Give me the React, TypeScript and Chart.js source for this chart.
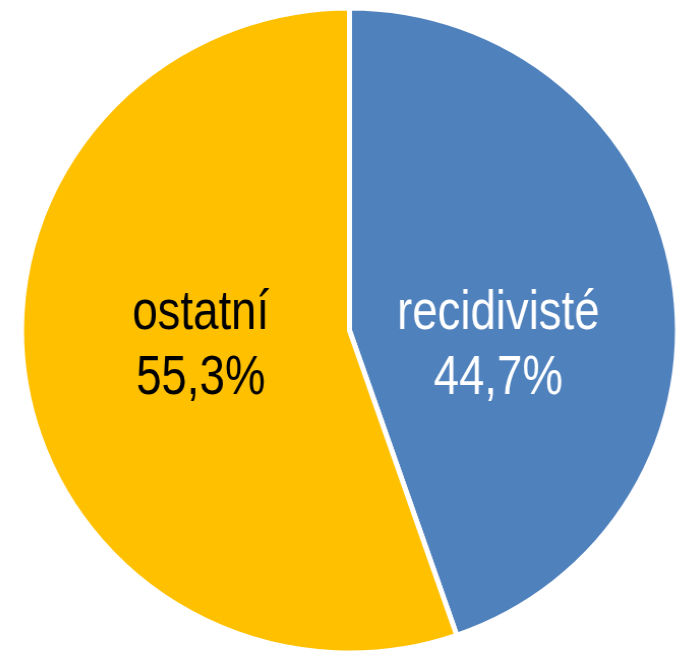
import React, { useEffect, useRef } from "react";
import { Chart, registerables } from "chart.js";

Chart.register(...registerables);

const categories = ["recidivisté", "ostatní"];
const values = [44.7, 55.3];
const percentLabels = ["44,7%", "55,3%"];
const colors = ["#4F81BD", "#FFC000"];
const labelColors = ["#FFFFFF", "#000000"];

const FONT = "'Liberation Sans', Arial, sans-serif";

const labelPlugin = {
  id: "pieLabels",
  afterDatasetsDraw(chart: any) {
    const ctx = chart.ctx;
    const meta = chart.getDatasetMeta(0);
    meta.data.forEach((arc: any, i: number) => {
      const { x, y, startAngle, endAngle, outerRadius } = arc.getProps(
        ["x", "y", "startAngle", "endAngle", "outerRadius"],
        true
      );
      const mid = (startAngle + endAngle) / 2;
      const lx = x + Math.cos(mid) * outerRadius * 0.46;
      const ly = y + 10;
      ctx.save();
      ctx.translate(lx, ly);
      ctx.scale(0.8, 1);
      ctx.fillStyle = labelColors[i];
      ctx.textAlign = "center";
      ctx.textBaseline = "alphabetic";
      ctx.font = `56px ${FONT}`;
      ctx.fillText(categories[i], 0, -12);
      ctx.fillText(percentLabels[i], 0, 53);
      ctx.restore();
    });
  },
};

export default function App() {
  const ref = useRef<HTMLCanvasElement>(null);
  useEffect(() => {
    document.body.style.margin = "0";
    const chart = new Chart(ref.current as HTMLCanvasElement, {
      type: "pie",
      data: {
        labels: categories,
        datasets: [
          {
            data: values,
            backgroundColor: colors,
            borderColor: "#FFFFFF",
            borderWidth: 5,
          },
        ],
      },
      options: {
        animation: false,
        responsive: true,
        maintainAspectRatio: false,
        radius: 322.5,
        layout: { padding: { left: 20, right: 0, top: 9, bottom: 0 } },
        plugins: {
          legend: { display: false },
          tooltip: { enabled: false },
        },
      },
      plugins: [labelPlugin],
    });
    return () => chart.destroy();
  }, []);
  return (
    <div
      style={{
        position: "absolute",
        left: 0,
        top: 0,
        width: 679,
        height: 652,
        transform: "scaleX(1.017)",
        transformOrigin: "349.5px 330px",
      }}
    >
      <canvas ref={ref} />
    </div>
  );
}
